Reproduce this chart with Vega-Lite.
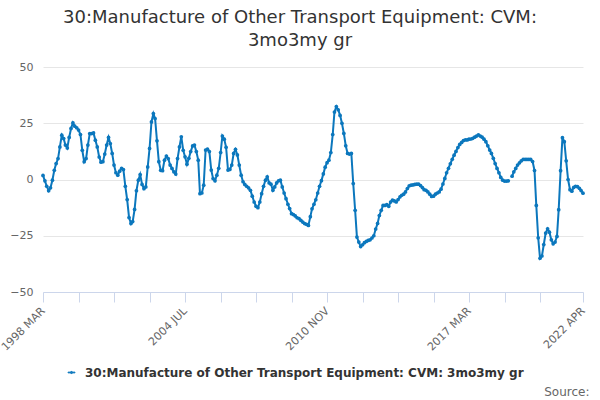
{
  "$schema": "https://vega.github.io/schema/vega-lite/v6.json",
  "width": 540,
  "height": 225,
  "autosize": "none",
  "padding": {"left": 43, "top": 67, "right": 17, "bottom": 108},
  "background": "white",
  "title": {
    "text": ["30:Manufacture of Other Transport Equipment: CVM:", "3mo3my gr"],
    "font": "DejaVu Sans",
    "fontSize": 18,
    "fontWeight": "normal",
    "color": "#333333",
    "anchor": "middle",
    "dx": -13,
    "offset": 11,
    "lineHeight": 23
  },
  "data": {
    "values": [
      {"d": "1998-03-01", "v": 1.8}, {"d": "1998-04-01", "v": -0.6}, {"d": "1998-05-01", "v": -3}, {"d": "1998-06-01", "v": -5},
      {"d": "1998-07-01", "v": -3.7}, {"d": "1998-08-01", "v": -0.3}, {"d": "1998-09-01", "v": 4.1}, {"d": "1998-10-01", "v": 7.1},
      {"d": "1998-11-01", "v": 9.3}, {"d": "1998-12-01", "v": 14.5},
      {"d": "1999-01-01", "v": 19.7}, {"d": "1999-02-01", "v": 18.2}, {"d": "1999-03-01", "v": 15.3}, {"d": "1999-04-01", "v": 14},
      {"d": "1999-05-01", "v": 18.7}, {"d": "1999-06-01", "v": 22.7}, {"d": "1999-07-01", "v": 25.2}, {"d": "1999-08-01", "v": 23.7},
      {"d": "1999-09-01", "v": 23}, {"d": "1999-10-01", "v": 22}, {"d": "1999-11-01", "v": 20}, {"d": "1999-12-01", "v": 13},
      {"d": "2000-01-01", "v": 7.9}, {"d": "2000-02-01", "v": 9.3}, {"d": "2000-03-01", "v": 15.3}, {"d": "2000-04-01", "v": 20.4},
      {"d": "2000-05-01", "v": 20.4}, {"d": "2000-06-01", "v": 20.7}, {"d": "2000-07-01", "v": 17.5}, {"d": "2000-08-01", "v": 14.5},
      {"d": "2000-09-01", "v": 10}, {"d": "2000-10-01", "v": 7.7}, {"d": "2000-11-01", "v": 7.9}, {"d": "2000-12-01", "v": 11.3},
      {"d": "2001-01-01", "v": 15.3}, {"d": "2001-02-01", "v": 18.7}, {"d": "2001-03-01", "v": 16}, {"d": "2001-04-01", "v": 11.6},
      {"d": "2001-05-01", "v": 6.4}, {"d": "2001-06-01", "v": 3}, {"d": "2001-07-01", "v": 1.9}, {"d": "2001-08-01", "v": 3.7},
      {"d": "2001-09-01", "v": 4.9}, {"d": "2001-10-01", "v": 4.4}, {"d": "2001-11-01", "v": -3}, {"d": "2001-12-01", "v": -8.9},
      {"d": "2002-01-01", "v": -16.9}, {"d": "2002-02-01", "v": -19.6}, {"d": "2002-03-01", "v": -18.7}, {"d": "2002-04-01", "v": -13.3},
      {"d": "2002-05-01", "v": -5}, {"d": "2002-06-01", "v": -0.3}, {"d": "2002-07-01", "v": 2.2}, {"d": "2002-08-01", "v": -2.2},
      {"d": "2002-09-01", "v": -4.1}, {"d": "2002-10-01", "v": -3.3}, {"d": "2002-11-01", "v": 5.6}, {"d": "2002-12-01", "v": 13.8},
      {"d": "2003-01-01", "v": 25.6}, {"d": "2003-02-01", "v": 29.3}, {"d": "2003-03-01", "v": 27.1}, {"d": "2003-04-01", "v": 17.2},
      {"d": "2003-05-01", "v": 7.9}, {"d": "2003-06-01", "v": 4.1}, {"d": "2003-07-01", "v": 3.9}, {"d": "2003-08-01", "v": 8.6},
      {"d": "2003-09-01", "v": 10.4}, {"d": "2003-10-01", "v": 9.3}, {"d": "2003-11-01", "v": 6.4}, {"d": "2003-12-01", "v": 4.9},
      {"d": "2004-01-01", "v": 3.4}, {"d": "2004-02-01", "v": 2.4}, {"d": "2004-03-01", "v": 9.3}, {"d": "2004-04-01", "v": 14.5},
      {"d": "2004-05-01", "v": 19}, {"d": "2004-06-01", "v": 13}, {"d": "2004-07-01", "v": 10.1}, {"d": "2004-08-01", "v": 6.8},
      {"d": "2004-09-01", "v": 9.4}, {"d": "2004-10-01", "v": 12.4}, {"d": "2004-11-01", "v": 14.9}, {"d": "2004-12-01", "v": 15.3},
      {"d": "2005-01-01", "v": 12.4}, {"d": "2005-02-01", "v": 8.6}, {"d": "2005-03-01", "v": -6.3}, {"d": "2005-04-01", "v": -6},
      {"d": "2005-05-01", "v": -2.5}, {"d": "2005-06-01", "v": 13.1}, {"d": "2005-07-01", "v": 13.5}, {"d": "2005-08-01", "v": 12.4},
      {"d": "2005-09-01", "v": 4.2}, {"d": "2005-10-01", "v": 0.4}, {"d": "2005-11-01", "v": -0.6}, {"d": "2005-12-01", "v": 1.9},
      {"d": "2006-01-01", "v": 5}, {"d": "2006-02-01", "v": 12}, {"d": "2006-03-01", "v": 19.3}, {"d": "2006-04-01", "v": 17.9},
      {"d": "2006-05-01", "v": 14.3}, {"d": "2006-06-01", "v": 4.2}, {"d": "2006-07-01", "v": 4.5}, {"d": "2006-08-01", "v": 6.4},
      {"d": "2006-09-01", "v": 11.6}, {"d": "2006-10-01", "v": 13.4}, {"d": "2006-11-01", "v": 10.9}, {"d": "2006-12-01", "v": 6.4},
      {"d": "2007-01-01", "v": 1.9}, {"d": "2007-02-01", "v": -1}, {"d": "2007-03-01", "v": -2.2}, {"d": "2007-04-01", "v": -3},
      {"d": "2007-05-01", "v": -3.7}, {"d": "2007-06-01", "v": -4.8}, {"d": "2007-07-01", "v": -7.4}, {"d": "2007-08-01", "v": -10},
      {"d": "2007-09-01", "v": -11.9}, {"d": "2007-10-01", "v": -12.5}, {"d": "2007-11-01", "v": -10}, {"d": "2007-12-01", "v": -6.3},
      {"d": "2008-01-01", "v": -3}, {"d": "2008-02-01", "v": -0.3}, {"d": "2008-03-01", "v": 1.2}, {"d": "2008-04-01", "v": -1.5},
      {"d": "2008-05-01", "v": -2.1}, {"d": "2008-06-01", "v": -4.8}, {"d": "2008-07-01", "v": -3.3}, {"d": "2008-08-01", "v": -1.5},
      {"d": "2008-09-01", "v": -0.6}, {"d": "2008-10-01", "v": -0.3}, {"d": "2008-11-01", "v": -3.3}, {"d": "2008-12-01", "v": -6},
      {"d": "2009-01-01", "v": -8.5}, {"d": "2009-02-01", "v": -11}, {"d": "2009-03-01", "v": -12.9}, {"d": "2009-04-01", "v": -15.2},
      {"d": "2009-05-01", "v": -15.6}, {"d": "2009-06-01", "v": -16.2}, {"d": "2009-07-01", "v": -17}, {"d": "2009-08-01", "v": -17.4},
      {"d": "2009-09-01", "v": -18.2}, {"d": "2009-10-01", "v": -18.9}, {"d": "2009-11-01", "v": -19.6}, {"d": "2009-12-01", "v": -19.9},
      {"d": "2010-01-01", "v": -20.4}, {"d": "2010-02-01", "v": -16.5}, {"d": "2010-03-01", "v": -13}, {"d": "2010-04-01", "v": -11},
      {"d": "2010-05-01", "v": -9}, {"d": "2010-06-01", "v": -6}, {"d": "2010-07-01", "v": -3}, {"d": "2010-08-01", "v": -0.5},
      {"d": "2010-09-01", "v": 2.5}, {"d": "2010-10-01", "v": 5.5}, {"d": "2010-11-01", "v": 7.5}, {"d": "2010-12-01", "v": 8.6},
      {"d": "2011-01-01", "v": 12}, {"d": "2011-02-01", "v": 20}, {"d": "2011-03-01", "v": 30}, {"d": "2011-04-01", "v": 32.4},
      {"d": "2011-05-01", "v": 31}, {"d": "2011-06-01", "v": 28.5}, {"d": "2011-07-01", "v": 25}, {"d": "2011-08-01", "v": 20.5},
      {"d": "2011-09-01", "v": 15}, {"d": "2011-10-01", "v": 11.6}, {"d": "2011-11-01", "v": 11.3}, {"d": "2011-12-01", "v": 11.6},
      {"d": "2012-01-01", "v": -1.8}, {"d": "2012-02-01", "v": -13.7}, {"d": "2012-03-01", "v": -25.6}, {"d": "2012-04-01", "v": -27.8},
      {"d": "2012-05-01", "v": -29.8}, {"d": "2012-06-01", "v": -29}, {"d": "2012-07-01", "v": -28.1}, {"d": "2012-08-01", "v": -27.5},
      {"d": "2012-09-01", "v": -27.1}, {"d": "2012-10-01", "v": -26.8}, {"d": "2012-11-01", "v": -26}, {"d": "2012-12-01", "v": -25},
      {"d": "2013-01-01", "v": -22}, {"d": "2013-02-01", "v": -19.5}, {"d": "2013-03-01", "v": -16}, {"d": "2013-04-01", "v": -13.7},
      {"d": "2013-05-01", "v": -11.5}, {"d": "2013-06-01", "v": -11.5}, {"d": "2013-07-01", "v": -11.2}, {"d": "2013-08-01", "v": -11.9},
      {"d": "2013-09-01", "v": -10}, {"d": "2013-10-01", "v": -9.2}, {"d": "2013-11-01", "v": -9.5}, {"d": "2013-12-01", "v": -10},
      {"d": "2014-01-01", "v": -8.9}, {"d": "2014-02-01", "v": -7.7}, {"d": "2014-03-01", "v": -7}, {"d": "2014-04-01", "v": -6.5},
      {"d": "2014-05-01", "v": -5.5}, {"d": "2014-06-01", "v": -4}, {"d": "2014-07-01", "v": -2.8}, {"d": "2014-08-01", "v": -2.5},
      {"d": "2014-09-01", "v": -2.4}, {"d": "2014-10-01", "v": -2.2}, {"d": "2014-11-01", "v": -2.1}, {"d": "2014-12-01", "v": -2.1},
      {"d": "2015-01-01", "v": -2.7}, {"d": "2015-02-01", "v": -3.6}, {"d": "2015-03-01", "v": -4.5}, {"d": "2015-04-01", "v": -4.8},
      {"d": "2015-05-01", "v": -5.5}, {"d": "2015-06-01", "v": -6.5}, {"d": "2015-07-01", "v": -7.5}, {"d": "2015-08-01", "v": -7.4},
      {"d": "2015-09-01", "v": -6.5}, {"d": "2015-10-01", "v": -6}, {"d": "2015-11-01", "v": -5.5}, {"d": "2015-12-01", "v": -4.3},
      {"d": "2016-01-01", "v": -2}, {"d": "2016-02-01", "v": 0.5}, {"d": "2016-03-01", "v": 3}, {"d": "2016-04-01", "v": 5},
      {"d": "2016-05-01", "v": 7}, {"d": "2016-06-01", "v": 9}, {"d": "2016-07-01", "v": 10.8}, {"d": "2016-08-01", "v": 12.5},
      {"d": "2016-09-01", "v": 14.2}, {"d": "2016-10-01", "v": 15.6}, {"d": "2016-11-01", "v": 16.5}, {"d": "2016-12-01", "v": 17.3},
      {"d": "2017-01-01", "v": 17.6}, {"d": "2017-02-01", "v": 17.6}, {"d": "2017-03-01", "v": 17.9}, {"d": "2017-04-01", "v": 18},
      {"d": "2017-05-01", "v": 18.3}, {"d": "2017-06-01", "v": 18.8}, {"d": "2017-07-01", "v": 19.3}, {"d": "2017-08-01", "v": 19.8},
      {"d": "2017-09-01", "v": 19.3}, {"d": "2017-10-01", "v": 18.8}, {"d": "2017-11-01", "v": 17.9}, {"d": "2017-12-01", "v": 16.8},
      {"d": "2018-01-01", "v": 15}, {"d": "2018-02-01", "v": 13.1}, {"d": "2018-03-01", "v": 11.6}, {"d": "2018-04-01", "v": 9.4},
      {"d": "2018-05-01", "v": 7.1}, {"d": "2018-06-01", "v": 4.9}, {"d": "2018-07-01", "v": 3}, {"d": "2018-08-01", "v": 0.9},
      {"d": "2018-09-01", "v": -0.3}, {"d": "2018-10-01", "v": -0.7}, {"d": "2018-11-01", "v": -0.7}, {"d": "2018-12-01", "v": -0.6},
      {"d": "2019-01-01", "v": null}, {"d": "2019-02-01", "v": 1.5}, {"d": "2019-03-01", "v": 3.4}, {"d": "2019-04-01", "v": 4.9},
      {"d": "2019-05-01", "v": 6.4}, {"d": "2019-06-01", "v": 7.4}, {"d": "2019-07-01", "v": 8.3}, {"d": "2019-08-01", "v": 8.9},
      {"d": "2019-09-01", "v": 8.9}, {"d": "2019-10-01", "v": 8.9}, {"d": "2019-11-01", "v": 8.9}, {"d": "2019-12-01", "v": 8.9},
      {"d": "2020-01-01", "v": 8}, {"d": "2020-02-01", "v": 4}, {"d": "2020-03-01", "v": -11.5}, {"d": "2020-04-01", "v": -25.9},
      {"d": "2020-05-01", "v": -35}, {"d": "2020-06-01", "v": -34}, {"d": "2020-07-01", "v": -28.9}, {"d": "2020-08-01", "v": -23.8},
      {"d": "2020-09-01", "v": -21.9}, {"d": "2020-10-01", "v": -23.4}, {"d": "2020-11-01", "v": -26.8}, {"d": "2020-12-01", "v": -28.6},
      {"d": "2021-01-01", "v": -27.8}, {"d": "2021-02-01", "v": -25.3}, {"d": "2021-03-01", "v": -13.4}, {"d": "2021-04-01", "v": 3.9},
      {"d": "2021-05-01", "v": 18.6}, {"d": "2021-06-01", "v": 16.8}, {"d": "2021-07-01", "v": 8.3}, {"d": "2021-08-01", "v": 0},
      {"d": "2021-09-01", "v": -4.5}, {"d": "2021-10-01", "v": -5.2}, {"d": "2021-11-01", "v": -3.5}, {"d": "2021-12-01", "v": -3},
      {"d": "2022-01-01", "v": -3.2}, {"d": "2022-02-01", "v": -3.9}, {"d": "2022-03-01", "v": -4.9}, {"d": "2022-04-01", "v": -6.1}
    ]
  },
  "mark": {
    "type": "line",
    "strokeWidth": 2,
    "point": {"filled": true, "size": 14}
  },
  "encoding": {
    "x": {
      "field": "d",
      "type": "temporal",
      "scale": {"type": "utc"},
      "axis": {
        "title": "Source:",
        "values": [
          {"year": 1998, "month": 3, "date": 1, "utc": true},
          {"year": 1999, "month": 10, "date": 1, "utc": true},
          {"year": 2001, "month": 5, "date": 1, "utc": true},
          {"year": 2002, "month": 12, "date": 1, "utc": true},
          {"year": 2004, "month": 7, "date": 1, "utc": true},
          {"year": 2006, "month": 2, "date": 1, "utc": true},
          {"year": 2007, "month": 9, "date": 1, "utc": true},
          {"year": 2009, "month": 4, "date": 1, "utc": true},
          {"year": 2010, "month": 11, "date": 1, "utc": true},
          {"year": 2012, "month": 6, "date": 1, "utc": true},
          {"year": 2014, "month": 1, "date": 1, "utc": true},
          {"year": 2015, "month": 8, "date": 1, "utc": true},
          {"year": 2017, "month": 3, "date": 1, "utc": true},
          {"year": 2018, "month": 10, "date": 1, "utc": true},
          {"year": 2020, "month": 5, "date": 1, "utc": true},
          {"year": 2022, "month": 4, "date": 1, "utc": true}
        ],
        "labelExpr": "indexof(['1998-03','2004-07','2010-11','2017-03','2022-04'], utcFormat(datum.value, '%Y-%m')) >= 0 ? upper(utcFormat(datum.value, '%Y %b')) : ''",
        "labelAngle": -45,
        "labelAlign": "right",
        "labelBaseline": "middle",
        "labelPadding": 7,
        "labelOverlap": false,
        "labelBound": false,
        "labelFlush": false,
        "labelFont": "DejaVu Sans",
        "labelFontSize": 11,
        "labelColor": "#666666",
        "grid": false,
        "domainColor": "#ccd6eb",
        "tickColor": "#ccd6eb",
        "tickSize": 10,
        "titleFont": "DejaVu Sans",
        "titleFontSize": 12,
        "titleFontWeight": "normal",
        "titleColor": "#666666",
        "titleAnchor": "end",
        "titleAlign": "right",
        "titleBaseline": "alphabetic",
        "titleX": 546,
        "titleY": 103
      }
    },
    "y": {
      "field": "v",
      "type": "quantitative",
      "scale": {"domain": [-50, 50]},
      "axis": {
        "title": null,
        "values": [-50, -25, 0, 25, 50],
        "grid": true,
        "gridColor": "#e6e6e6",
        "domain": false,
        "ticks": false,
        "labelFont": "DejaVu Sans",
        "labelFontSize": 11,
        "labelColor": "#666666",
        "labelPadding": 10
      }
    },
    "color": {
      "datum": "30:Manufacture of Other Transport Equipment: CVM: 3mo3my gr",
      "scale": {"range": ["#0b77bd"]},
      "legend": {
        "orient": "none",
        "legendX": 21,
        "legendY": 298,
        "title": null,
        "labelLimit": 0,
        "labelFont": "DejaVu Sans",
        "labelFontSize": 12,
        "labelFontWeight": "bold",
        "labelColor": "#333333",
        "labelOffset": 6,
        "symbolType": "M-0.5,-0.05H0.5V0.05H-0.5ZM-0.15,0A0.15,0.15,0,1,0,0.15,0A0.15,0.15,0,1,0,-0.15,0",
        "symbolSize": 196,
        "symbolStrokeWidth": 1,
        "symbolFillColor": "#0b77bd",
        "symbolStrokeColor": "#0b77bd",
        "encode": {
          "symbols": {
            "update": {
              "stroke": {"value": "#0b77bd"},
              "strokeOpacity": {"value": 1},
              "strokeWidth": {"value": 1},
              "fill": {"value": "#0b77bd"},
              "fillOpacity": {"value": 1},
              "opacity": {"value": 1}
            }
          }
        }
      }
    }
  },
  "config": {
    "view": {"stroke": null}
  }
}
